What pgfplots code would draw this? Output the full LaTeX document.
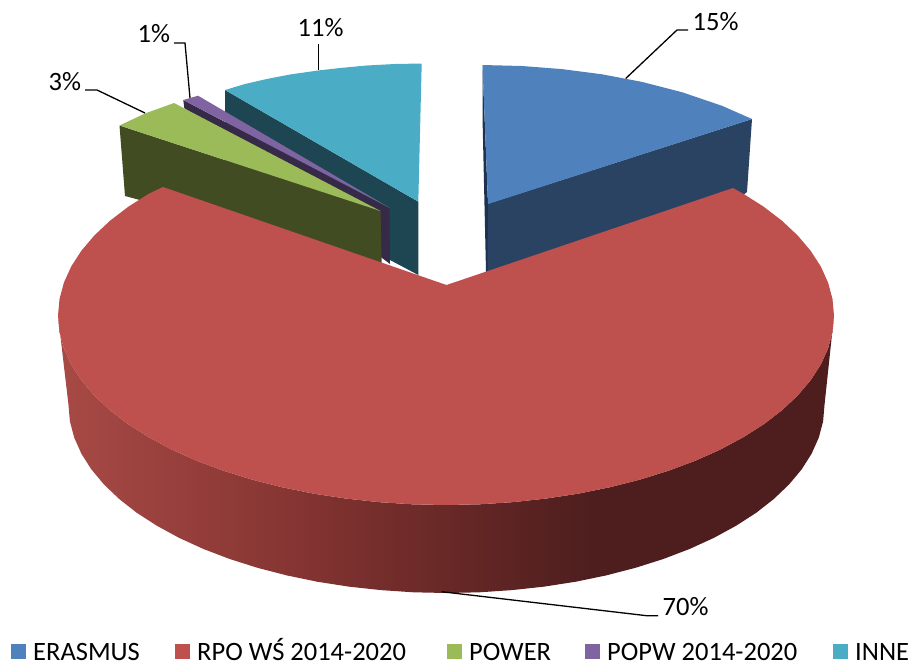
\documentclass[border=0pt]{standalone}
\usepackage{pgfplots}
\pgfplotsset{compat=1.18}
\usepackage{fontspec}
\setmainfont{Carlito}
\definecolor{redtop}{RGB}{190,80,77}
\definecolor{bluetop}{RGB}{79,129,189}
\definecolor{blueside}{RGB}{42,67,99}
\definecolor{bluedark}{RGB}{28,50,80}
\definecolor{greentop}{RGB}{155,187,89}
\definecolor{greenside}{RGB}{66,76,34}
\definecolor{purpletop}{RGB}{128,100,162}
\definecolor{purpleside}{RGB}{54,42,72}
\definecolor{tealtop}{RGB}{75,172,198}
\definecolor{tealside}{RGB}{30,70,82}
\definecolor{rs0}{RGB}{168,74,70}
\definecolor{rs1}{RGB}{155,66,62}
\definecolor{rs2}{RGB}{132,52,50}
\definecolor{rs3}{RGB}{105,41,39}
\definecolor{rs4}{RGB}{78,30,30}
\pgfdeclarehorizontalshading{redside}{100bp}{color(0bp)=(rs0); color(25bp)=(rs0); color(30.9bp)=(rs1); color(40.6bp)=(rs2); color(49.6bp)=(rs3); color(59.3bp)=(rs4); color(100bp)=(rs4)}
\begin{document}
\begin{tikzpicture}
\path[use as bounding box] (0,0) rectangle (910pt,662pt);
\begin{axis}[
  scale only axis, width=910pt, height=662pt,
  xmin=0, xmax=910, ymin=0, ymax=662, y dir=reverse,
  hide axis, clip=false, no marks,
  every axis plot/.append style={forget plot, sharp plot},
]
% INNE
\addplot[fill=tealside, draw=none] coordinates {(225,90)(418.3,201.7)(418.3,275)(390,260)(225,172)} --cycle;
\addplot[fill=tealtop, draw=none] coordinates {(421.7,63.5)(395,64)(366.7,65.5)(340,68)(318,70.5)(290,74.5)(266.7,79)(245,84)(225,90)(418.3,201.7)} --cycle;
% POPW
\addplot[fill=purpleside, draw=none] coordinates {(183.3,100)(389.5,208.5)(390,264)(184.3,108)} --cycle;
\addplot[fill=purpletop, draw=none] coordinates {(183.3,100)(198,95.7)(390,208)} --cycle;
% POWER
\addplot[fill=greenside, draw=none] coordinates {(119.5,125.5)(380.5,211)(381.7,265)(125,196)} --cycle;
\addplot[fill=greentop, draw=none] coordinates {(119.5,125.5)(145,113.5)(174,103)(380.5,211)} --cycle;
% ERASMUS
\addplot[fill=blueside, draw=none] coordinates {(487,204)(752,119)(747,192)(700,230)(486.5,272)} --cycle;
\addplot[fill=bluedark, draw=none] coordinates {(482.5,65)(488,204)(487.5,272)(486,272)(482.5,117)} --cycle;
\addplot[fill=bluetop, draw=none] coordinates {(482.5,65)(522,66)(562,69.1)(602,74.3)(642,81.9)(682,92.2)(722,105.8)(752,119)(488,204)} --cycle;
% RPO side
\addplot[shade, shading=redside, draw=none] coordinates {
(834,315.5)(832.5,332)(828.1,348.4)(820.8,364.5)(810.6,380.3)(797.6,395.6)(782,410.25)(763.8,424.2)(743.2,437.3)(720.4,449.5)(695.4,460.7)(668.6,470.7)(640,479.6)(610,487.2)(578.7,493.6)(546.4,498.5)(513.4,502.1)(479.8,504.3)(446,505)
(412.2,504.3)(378.6,502.1)(345.6,498.5)(313.3,493.6)(282,487.2)(252,479.6)(223.4,470.7)(196.6,460.7)(171.6,449.5)(148.8,437.3)(128.2,424.2)(110,410.25)(94.4,395.6)(81.4,380.3)(71.2,364.5)(63.9,348.4)(59.5,332)(58,315.5)
(68.5,405)(69.9,421.4)(74.2,437.6)(81.4,453.7)(91.3,469.3)(103.9,484.4)(119.2,499)(136.8,512.8)(157,525.8)(179.2,537.9)(203.5,549)(229.7,559)(257.5,567.8)(286.8,575.4)(317.2,581.7)(348.7,586.6)(380.9,590.1)(413.5,592.3)(446.5,593)
(479.5,592.3)(512.1,590.1)(544.3,586.6)(575.8,581.7)(606.2,575.4)(635.5,567.8)(663.3,559)(689.5,549)(713.8,537.9)(736,525.8)(756.2,512.8)(773.8,499)(789.1,484.4)(801.7,469.3)(811.6,453.7)(818.8,437.6)(823.1,421.4)(824.5,405)
} --cycle;
% RPO top
\addplot[fill=redtop, draw=none] coordinates {
(446.5,285)(733,188)(743.2,193.7)(763.8,206.8)(782,220.75)(797.6,235.4)(810.6,250.7)(820.8,266.5)(828.1,282.6)(832.5,299)(834,315.5)
(832.5,332)(828.1,348.4)(820.8,364.5)(810.6,380.3)(797.6,395.6)(782,410.25)(763.8,424.2)(743.2,437.3)(720.4,449.5)(695.4,460.7)(668.6,470.7)(640,479.6)(610,487.2)(578.7,493.6)(546.4,498.5)(513.4,502.1)(479.8,504.3)(446,505)
(412.2,504.3)(378.6,502.1)(345.6,498.5)(313.3,493.6)(282,487.2)(252,479.6)(223.4,470.7)(196.6,460.7)(171.6,449.5)(148.8,437.3)(128.2,424.2)(110,410.25)(94.4,395.6)(81.4,380.3)(71.2,364.5)(63.9,348.4)(59.5,332)(58,315.5)
(59.5,299)(63.9,282.6)(71.2,266.5)(81.4,250.7)(94.4,235.4)(110,220.75)(128.2,206.8)(148.8,193.7)(163,187)
} --cycle;
% leader lines
\addplot[black, line width=1.3pt] coordinates {(625.7,78.5)(677,30)(688,30)};
\addplot[black, line width=1.3pt] coordinates {(318.5,70)(318.5,44)};
\addplot[black, line width=1.3pt] coordinates {(190,98)(185,43)(174,43)};
\addplot[black, line width=1.3pt] coordinates {(145,113)(97,90)(85,90)};
\addplot[black, line width=1.3pt] coordinates {(441.7,591.7)(646.7,615.7)(658,615.7)};
% legend keys
\addplot[fill=bluetop, draw=none] coordinates {(11,644)(26,644)(26,659)(11,659)} --cycle;
\addplot[fill=redtop, draw=none] coordinates {(175,644)(190,644)(190,659)(175,659)} --cycle;
\addplot[fill=greentop, draw=none] coordinates {(447,644)(462,644)(462,659)(447,659)} --cycle;
\addplot[fill=purpletop, draw=none] coordinates {(585,644)(600,644)(600,659)(585,659)} --cycle;
\addplot[fill=tealtop, draw=none] coordinates {(833,644)(848,644)(848,659)(833,659)} --cycle;
\begin{scope}[every node/.style={anchor=base west, inner sep=0pt, font=\fontsize{26.5}{30}\selectfont}]
\node at (axis cs:33,660) {ERASMUS};
\node at (axis cs:197,660) {RPO WŚ 2014-2020};
\node at (axis cs:469,660) {POWER};
\node at (axis cs:607,660) {POPW 2014-2020};
\node at (axis cs:855,660) {INNE};
\node at (axis cs:692.5,30.7) {15\%};
\node at (axis cs:297.5,36) {11\%};
\node at (axis cs:137.5,42.7) {1\%};
\node at (axis cs:48.5,90) {3\%};
\node at (axis cs:662.5,615.7) {70\%};
\end{scope}
\end{axis}
\end{tikzpicture}
\end{document}
